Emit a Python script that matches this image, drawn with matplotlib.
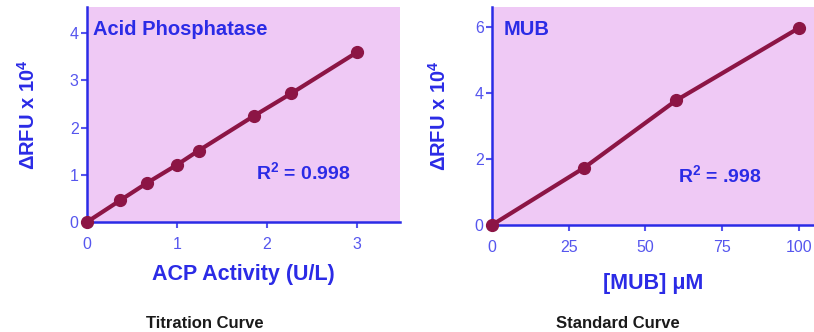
import matplotlib
matplotlib.use("Agg")
import matplotlib.pyplot as plt

# titration curve (acid phosphatase)
acp_activity = [0, 0.37, 0.67, 1.0, 1.24, 1.86, 2.27, 3.0]
acp_rfu = [0, 0.46, 0.83, 1.21, 1.51, 2.25, 2.72, 3.59]

# standard curve (MUB)
mub_conc = [0, 30, 60, 100]
mub_rfu = [0, 1.73, 3.77, 5.96]

plt.rcParams["mathtext.fontset"] = "custom"
plt.rcParams["mathtext.rm"] = "Liberation Sans:bold"
plt.rcParams["mathtext.default"] = "rm"

bg = "#efc9f5"
blue = "#2b2be6"
tickblue = "#5656ee"
red = "#8c1545"
fam = ["Liberation Sans", "DejaVu Sans"]
narrow = ["Liberation Sans Narrow", "Liberation Sans", "DejaVu Sans"]

fig = plt.figure(figsize=(8.14, 3.32), dpi=100)
ax1 = fig.add_axes([0.1069, 0.3313, 0.3845, 0.6476])
ax2 = fig.add_axes([0.6044, 0.3223, 0.3956, 0.6566])


def style(ax):
    ax.set_facecolor(bg)
    for s in ["top", "right"]:
        ax.spines[s].set_visible(False)
    for s in ["left", "bottom"]:
        ax.spines[s].set_color(blue)
        ax.spines[s].set_linewidth(1.8)
    ax.tick_params(colors=tickblue, labelsize=11.5, length=4.5, width=1.5)
    ax.tick_params(axis="x", pad=6)
    ax.tick_params(axis="y", pad=1.5)
    for lab in ax.get_xticklabels() + ax.get_yticklabels():
        lab.set_family(fam)


ax1.plot(acp_activity, acp_rfu, color=red, lw=3, marker="o", ms=8.5, clip_on=False, zorder=3)
ax1.set_xlim(0, 3.48)
ax1.set_ylim(0, 4.55)
ax1.set_xticks([0, 1, 2, 3])
ax1.set_yticks([0, 1, 2, 3, 4])
style(ax1)
ax1.text(0.02, 0.895, "Acid Phosphatase", transform=ax1.transAxes, color=blue,
         fontsize=14.5, fontweight="bold", family=fam, va="center")
ax1.text(0.54, 0.23, "R$^2$ = 0.998", transform=ax1.transAxes, color=blue,
         fontsize=14, fontweight="bold", family=fam, va="center")
ax1.set_xlabel("ACP Activity (U/L)", color=blue, fontsize=15.5, fontweight="bold",
               family=fam, labelpad=9)
ax1.set_ylabel("ΔRFU x 10$^4$", color=blue, fontsize=14.5, fontweight="bold",
               family=fam, labelpad=22)

ax2.plot(mub_conc, mub_rfu, color=red, lw=3, marker="o", ms=8.5, clip_on=False, zorder=3)
ax2.set_xlim(0, 105)
ax2.set_ylim(0, 6.6)
ax2.set_xticks([0, 25, 50, 75, 100])
ax2.set_yticks([0, 2, 4, 6])
style(ax2)
ax2.text(0.035, 0.895, "MUB", transform=ax2.transAxes, color=blue,
         fontsize=14.5, fontweight="bold", family=fam, va="center")
ax2.text(0.578, 0.23, "R$^2$ = .998", transform=ax2.transAxes, color=blue,
         fontsize=14, fontweight="bold", family=fam, va="center")
ax2.set_xlabel("[MUB] μM", color=blue, fontsize=15.5, fontweight="bold",
               family=fam, labelpad=13)
ax2.set_ylabel("ΔRFU x 10$^4$", color=blue, fontsize=14.5, fontweight="bold",
               family=fam, labelpad=18)

fig.text(205 / 814, 1 - 323 / 332, "Titration Curve", ha="center", va="center",
         fontsize=12, fontweight="bold", family=narrow, color="#1a1a1a")
fig.text(618 / 814, 1 - 323 / 332, "Standard Curve", ha="center", va="center",
         fontsize=12, fontweight="bold", family=narrow, color="#1a1a1a")

fig.savefig("out.png", dpi=100)
